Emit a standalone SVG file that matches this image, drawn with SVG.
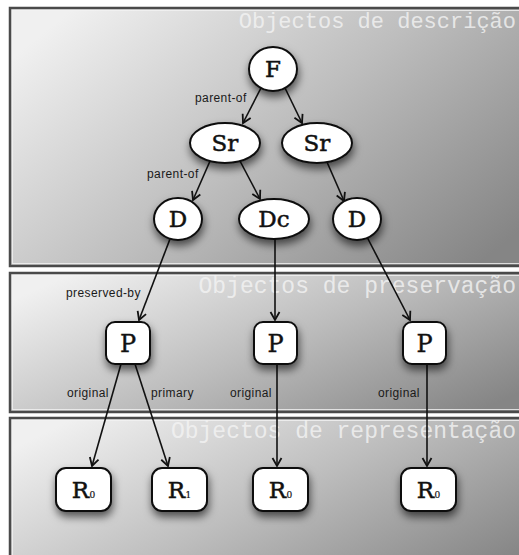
<svg xmlns="http://www.w3.org/2000/svg" width="519" height="555" viewBox="0 0 519 555">
  <style>
    .panel { stroke: #4a4a4a; stroke-width: 2.5; }
    .inner { fill: none; stroke: #f2f2f2; stroke-width: 1; opacity: 0.8; }
    .title { font-family: "Liberation Mono", "DejaVu Sans Mono", monospace; fill: #f4f4f4; fill-opacity: 0.8; text-anchor: end; }
    .node { fill: #ffffff; stroke: #111; stroke-width: 2; filter: url(#shadow); }
    .lbl { font-family: "DejaVu Serif", "Liberation Serif", serif; font-size: 23px; fill: #111; stroke: #111; stroke-width: 0.5; text-anchor: middle; }
    .plbl { font-family: "DejaVu Serif", "Liberation Serif", serif; font-size: 24px; fill: #111; stroke: #111; stroke-width: 0.4; text-anchor: middle; }
    .sub { font-size: 9px; stroke-width: 0.2; }
    .edge { stroke: #111; stroke-width: 1.6; fill: none; marker-end: url(#arrow); }
    .elbl { font-family: "Liberation Sans", Arial, sans-serif; font-size: 12px; letter-spacing: 0.4px; fill: #1a1a1a; }
  </style>
  <defs>
    <linearGradient id="bg" x1="0" y1="0.2" x2="1" y2="0.8">
      <stop offset="0" stop-color="#f0f0f0"/>
      <stop offset="0.5" stop-color="#bdbdbd"/>
      <stop offset="1" stop-color="#858585"/>
    </linearGradient>
    <filter id="shadow" x="-40%" y="-40%" width="180%" height="200%">
      <feDropShadow dx="1" dy="5" stdDeviation="4" flood-color="#000" flood-opacity="0.6"/>
    </filter>
    <marker id="arrow" markerUnits="userSpaceOnUse" viewBox="-10 -6 12 12" refX="0" refY="0" markerWidth="12" markerHeight="12" orient="auto">
      <path d="M-8,-4.5 L0,0 L-8,4.5" fill="none" stroke="#111" stroke-width="1.8" stroke-linejoin="miter"/>
    </marker>
  </defs>

  <g id="panels">
    <rect class="panel" x="10" y="8" width="530" height="258" fill="url(#bg)"/>
    <rect class="inner" x="12.5" y="10.5" width="530" height="253"/>
    <rect class="panel" x="10" y="273" width="530" height="139" fill="url(#bg)"/>
    <rect class="inner" x="12.5" y="275.5" width="530" height="134"/>
    <rect class="panel" x="10" y="418" width="530" height="160" fill="url(#bg)"/>
    <rect class="inner" x="12.5" y="420.5" width="530" height="160"/>
    <text class="title" x="516" y="28" font-size="22">Objectos de descrição</text>
    <text class="title" x="516" y="293" font-size="23">Objectos de preservação</text>
    <text class="title" x="516" y="438" font-size="23">Objectos de representação</text>
  </g>

  <g id="connectors">
    <line class="edge" x1="261" y1="88" x2="243" y2="123"/>
    <line class="edge" x1="285" y1="88" x2="302" y2="123"/>
    <line class="edge" x1="210" y1="161" x2="193" y2="200"/>
    <line class="edge" x1="240" y1="161" x2="260" y2="199"/>
    <line class="edge" x1="327" y1="162" x2="344" y2="201"/>
    <line class="edge" x1="170" y1="239" x2="139" y2="320"/>
    <line class="edge" x1="275" y1="239" x2="275" y2="320"/>
    <line class="edge" x1="367" y1="237" x2="410" y2="320"/>
    <line class="edge" x1="121" y1="364" x2="92" y2="466"/>
    <line class="edge" x1="135" y1="364" x2="168" y2="466"/>
    <line class="edge" x1="277" y1="364" x2="277" y2="466"/>
    <line class="edge" x1="427" y1="364" x2="427" y2="466"/>
    <text class="elbl" x="195" y="102">parent-of</text>
    <text class="elbl" x="147" y="178">parent-of</text>
    <text class="elbl" x="66" y="297">preserved-by</text>
    <text class="elbl" x="67" y="397">original</text>
    <text class="elbl" x="151" y="397">primary</text>
    <text class="elbl" x="230" y="397">original</text>
    <text class="elbl" x="378" y="397">original</text>
  </g>

  <g id="node-F">
    <ellipse class="node" cx="273" cy="69" rx="24" ry="22"/>
    <text class="lbl" x="273" y="77">F</text>
  </g>
  <g id="node-Sr1">
    <ellipse class="node" cx="225" cy="143" rx="35" ry="20"/>
    <text class="lbl" x="225" y="151">Sr</text>
  </g>
  <g id="node-Sr2">
    <ellipse class="node" cx="317" cy="143" rx="35" ry="20"/>
    <text class="lbl" x="317" y="151">Sr</text>
  </g>
  <g id="node-D1">
    <ellipse class="node" cx="178" cy="219" rx="24" ry="21"/>
    <text class="lbl" x="178" y="227">D</text>
  </g>
  <g id="node-Dc">
    <ellipse class="node" cx="274" cy="219" rx="35" ry="20"/>
    <text class="lbl" x="274" y="227">Dc</text>
  </g>
  <g id="node-D2">
    <ellipse class="node" cx="357" cy="219" rx="24" ry="21"/>
    <text class="lbl" x="357" y="227">D</text>
  </g>

  <g id="node-P1">
    <rect class="node" x="106" y="322" width="44" height="42" rx="9"/>
    <text class="plbl" x="128" y="352">P</text>
  </g>
  <g id="node-P2">
    <rect class="node" x="254" y="322" width="43" height="42" rx="9"/>
    <text class="plbl" x="275.5" y="352">P</text>
  </g>
  <g id="node-P3">
    <rect class="node" x="403" y="322" width="43" height="42" rx="9"/>
    <text class="plbl" x="424.5" y="352">P</text>
  </g>

  <g id="node-R0a">
    <rect class="node" x="56" y="468" width="55" height="43" rx="10"/>
    <text class="lbl" x="83.5" y="498">R<tspan class="sub" dx="0.5">0</tspan></text>
  </g>
  <g id="node-R1">
    <rect class="node" x="152" y="468" width="55" height="43" rx="10"/>
    <text class="lbl" x="179.5" y="498">R<tspan class="sub" dx="0.5">1</tspan></text>
  </g>
  <g id="node-R0b">
    <rect class="node" x="253" y="468" width="55" height="43" rx="10"/>
    <text class="lbl" x="280.5" y="498">R<tspan class="sub" dx="0.5">0</tspan></text>
  </g>
  <g id="node-R0c">
    <rect class="node" x="401" y="468" width="55" height="43" rx="10"/>
    <text class="lbl" x="428.5" y="498">R<tspan class="sub" dx="0.5">0</tspan></text>
  </g>
</svg>
